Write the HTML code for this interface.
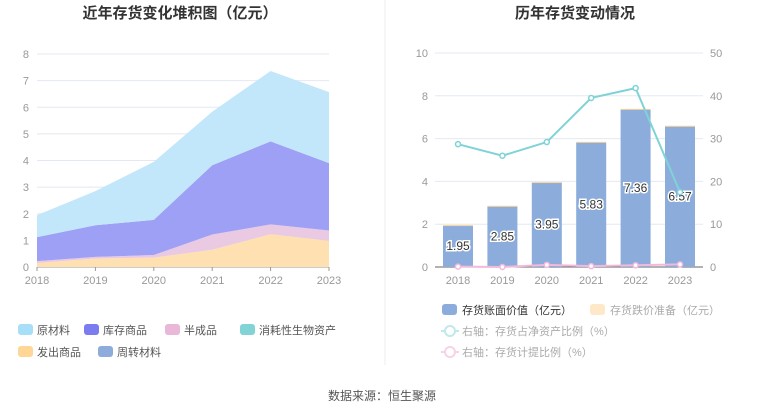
<!DOCTYPE html>
<html><head><meta charset="utf-8"><style>
body{margin:0;width:765px;height:413px;background:#fff;overflow:hidden;font-family:"Liberation Sans","Noto Sans CJK SC",sans-serif}
svg text{font-family:"Liberation Sans","Noto Sans CJK SC",sans-serif}
</style></head><body>
<svg id="s" width="765" height="413"></svg>
<script>
const years=["2018","2019","2020","2021","2022","2023"];
const shipped=[0.15,0.32,0.35,0.65,1.23,0.98];
const semi=[0.07,0.06,0.10,0.57,0.37,0.39];
const goods=[0.90,1.19,1.32,2.60,3.12,2.53];
const raw=[0.83,1.28,2.18,2.01,2.64,2.67];
const leftTicks=[0,1,2,3,4,5,6,7,8];
const bookValue=[1.95,2.85,3.95,5.83,7.36,6.57];
const impairment=[0.01,0.01,0.02,0.02,0.03,0.03];
const ratioNet=[28.7,26.0,29.2,39.5,41.8,17.5];
const ratioProv=[0.1,0.0,0.5,0.2,0.4,0.6];
const rightTicks=[0,2,4,6,8,10];
const rightTicks2=[0,10,20,30,40,50];

const s=document.getElementById('s');const NS='http://www.w3.org/2000/svg';
function mk(t,a,txt){const e=document.createElementNS(NS,t);for(const k in a)e.setAttribute(k,a[k]);if(txt!=null)e.textContent=txt;s.appendChild(e);return e;}
// titles
let e=mk('text',{x:180,y:18,'text-anchor':'middle','font-size':15,'font-weight':'bold',fill:'#333'},'近年存货变化堆积图（亿元）');

e=mk('text',{x:575,y:18,'text-anchor':'middle','font-size':15,'font-weight':'bold',fill:'#333'},'历年存货变动情况');

e=mk('line',{x1:385,y1:0,x2:385,y2:365,stroke:'#eee'});

// left chart
const lx=i=>37+i*(329-37)/5, ly=v=>267-v*(267-54)/8;
leftTicks.forEach(t=>{
 e=mk('line',{x1:37,x2:329,y1:ly(t),y2:ly(t),stroke:t?'#e3e8f2':'#999'});
 
 e=mk('text',{x:29,y:ly(t)+4,'text-anchor':'end','font-size':11,fill:'#999'},t);
 
});
years.forEach((y,i)=>{e=mk('text',{x:lx(i),y:284,'text-anchor':'middle','font-size':11,fill:'#999'},y);
 
 mk('line',{x1:lx(i),x2:lx(i),y1:267,y2:271,stroke:'#999'});});
const layers=[[shipped,'#ffe0b0','area-shipped-goods'],[semi,'#eac9e2','area-semi-finished'],[goods,'#9ea0f6','area-stock-goods'],[raw,'#c2e6fa','area-raw-materials']];
let base=years.map(()=>0);
layers.forEach(([arr,c,n])=>{
 const top=base.map((b,i)=>b+arr[i]);
 let p=top.map((v,i)=>(i?'L':'M')+lx(i)+','+ly(v)).join('');
 for(let i=5;i>=0;i--)p+='L'+lx(i)+','+ly(base[i]);
 e=mk('path',{d:p+'Z',fill:c});
 base=top;
});
// left legend
const ll=[['原材料','#a8dff8',27,330],['库存商品','#7b7cf0',93,330],['半成品','#e9b8d8',174,330],['消耗性生物资产','#82d3d6',249,330],['发出商品','#fed695',27,352],['周转材料','#8dacdb',107,352]];
ll.forEach(([t,c,x,y])=>{e=mk('rect',{x:x-9,y:y-6,width:15,height:11,rx:3,fill:c});
 
 e=mk('text',{x:x+10,y:y+4,'font-size':11,fill:'#555'},t);
 });
// right chart
const rx=i=>458+i*(680-458)/5, ry=v=>267-v*(267-53)/10, ry2=v=>267-v*(267-53)/50;
rightTicks.forEach((t,k)=>{
 e=mk('line',{x1:435,x2:703,y1:ry(t),y2:ry(t),stroke:t?'#e3e8f2':'#666'});
 
 e=mk('text',{x:428,y:ry(t)+4,'text-anchor':'end','font-size':11,fill:'#999'},t);
 
 e=mk('text',{x:710,y:ry(t)+4,'font-size':11,fill:'#999'},rightTicks2[k]);
 
});
years.forEach((y,i)=>{e=mk('text',{x:rx(i),y:284,'text-anchor':'middle','font-size':11,fill:'#999'},y);
 });
bookValue.forEach((v,i)=>{
 e=mk('rect',{x:rx(i)-15,y:ry(v),width:30,height:ry(0)-ry(v),fill:'#8caddb'});
 
 e=mk('rect',{x:rx(i)-15,y:ry(v+impairment[i]),width:30,height:Math.max(1,ry(v)-ry(v+impairment[i])),fill:'#fed695'});
 
 e=mk('text',{x:rx(i),y:(ry(v)+ry(0))/2+4,'text-anchor':'middle','font-size':12,fill:'#333',stroke:'#fff','stroke-width':3,'paint-order':'stroke'},v.toFixed(2));
 
});
[[ratioProv,'#f2b9dc','line-provision-ratio'],[ratioNet,'#7fd3d6','line-net-asset-ratio']].forEach(([arr,c,n])=>{
 e=mk('polyline',{points:arr.map((v,i)=>rx(i)+','+ry2(v)).join(' '),fill:'none',stroke:c,'stroke-width':2});
 
 arr.forEach((v,i)=>{e=mk('circle',{cx:rx(i),cy:ry2(v),r:2.5,fill:'#fff',stroke:c,'stroke-width':1.5});
  });
});
// right legend
e=mk('rect',{x:442,y:304,width:15,height:11,rx:3,fill:'#8caddb'});
e=mk('text',{x:462,y:314,'font-size':11,fill:'#333'},'存货账面价值（亿元）');
e=mk('rect',{x:590,y:304,width:15,height:11,rx:3,fill:'#ffe8c8'});
e=mk('text',{x:610,y:314,'font-size':11,fill:'#aaa'},'存货跌价准备（亿元）');
[['右轴：存货占净资产比例（%）','#bfe9eb',331],['右轴：存货计提比例（%）','#f6d3e7',352]].forEach(([t,c,y])=>{
 mk('line',{x1:441,x2:459,y1:y,y2:y,stroke:c,'stroke-width':2});
 mk('circle',{cx:450,cy:y,r:5,fill:'#fff',stroke:c,'stroke-width':2});
 e=mk('text',{x:462,y:y+4,'font-size':11,fill:'#aaa'},t);
});
e=mk('text',{x:382,y:400,'text-anchor':'middle','font-size':12,fill:'#555'},'数据来源：恒生聚源');

</script>
</body></html>
